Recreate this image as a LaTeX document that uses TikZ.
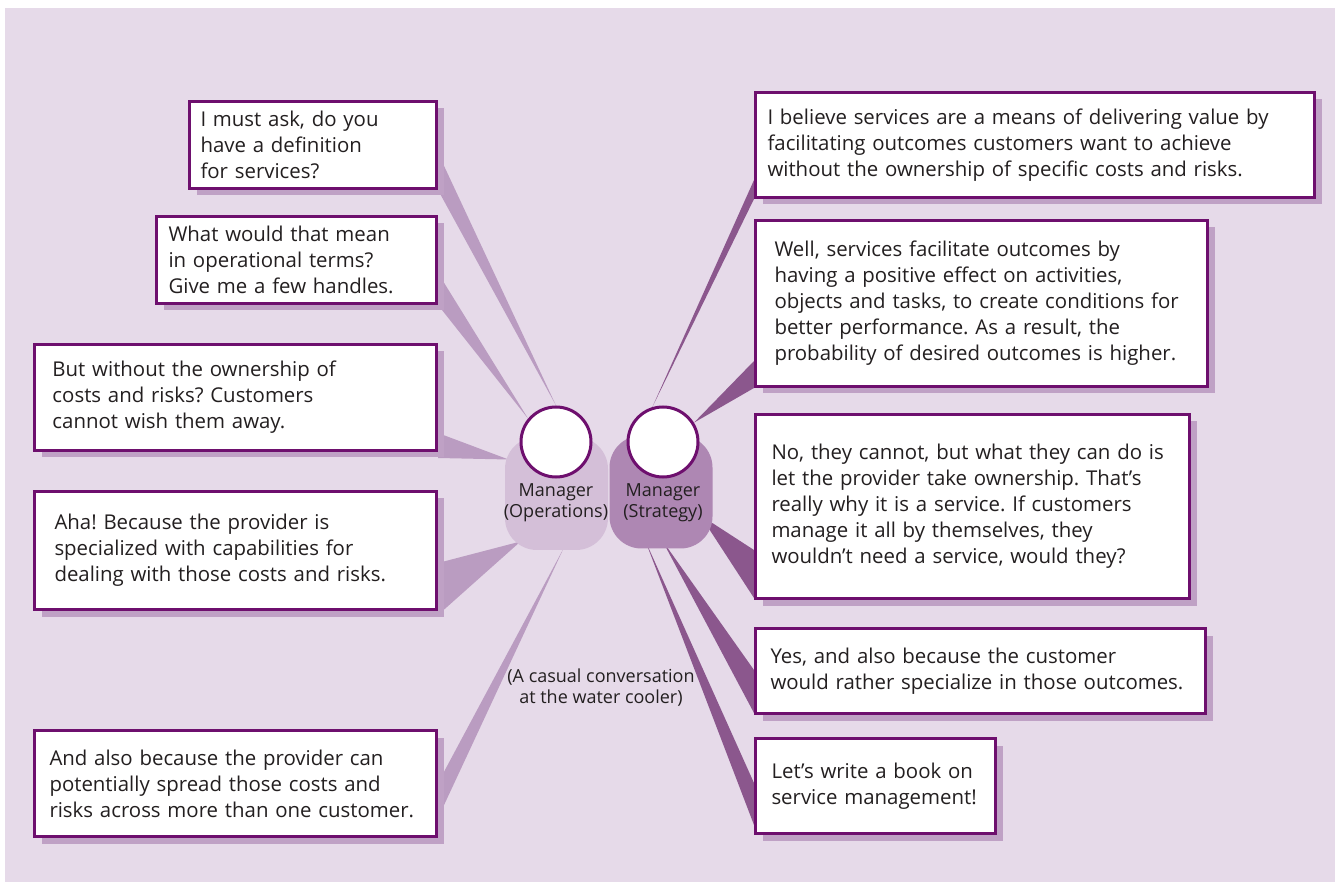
\documentclass[tikz,border=0pt]{standalone}
\usepackage{fontspec}
\setmainfont{Open Sans}
\usepackage{tikz}
\usetikzlibrary{backgrounds}
\usetikzlibrary{shadows}
\frenchspacing

\definecolor{backdrop}{HTML}{E6DAE9}
\definecolor{boxline}{HTML}{6E0F6E}
\definecolor{shadowpurple}{HTML}{BFA1C5}
\definecolor{lightwedge}{HTML}{BA9CC1}
\definecolor{darkwedge}{HTML}{8B578D}
\definecolor{opsfill}{HTML}{D4BFD8}
\definecolor{stratfill}{HTML}{AE87B3}
\definecolor{inktext}{HTML}{231F20}

\begin{document}
\begin{tikzpicture}[x=0.5pt,y=-0.5pt,
  bubble/.style={draw=boxline,line width=1.5pt,fill=white,align=left,
    anchor=north west,inner ysep=0pt,text=inktext,
    font=\fontsize{10.2}{13}\selectfont,
    drop shadow={shadow xshift=3.5pt,shadow yshift=-3.5pt,
      fill=shadowpurple,opacity=1}},
  head/.style={circle,draw=boxline,line width=1.5pt,fill=white,
    minimum size=35pt,inner sep=0pt},
  torso/.style={rounded corners=16pt,minimum width=51.5pt,
    minimum height=56.5pt,inner sep=0pt},
  role/.style={align=center,text=inktext,font=\fontsize{9}{10.5}\selectfont},
  opwedge/.style={fill=lightwedge},
  stwedge/.style={fill=darkwedge}]
  \useasboundingbox (0,0) rectangle (1335,882);

  % the two managers
  \node[torso,fill=opsfill] (opsbody) at (556.5,493.5) {};
  \node[torso,fill=stratfill] (stratbody) at (661,492) {};
  \node[head] (opshead) at (556,442) {};
  \node[head] (strathead) at (663,442) {};
  \node[role] (opsrole) at (556,503) {Manager\\(Operations)};
  \node[role] (stratrole) at (663,503) {Manager\\(Strategy)};
  \node[role] (caption) at (601,688) {(A casual conversation\\at the water cooler)};

  % what Operations says
  \node[bubble,inner xsep=5.5pt,text width=112.5pt,minimum height=43.5pt]
    (q1) at (188,100) {I must ask, do you\\have a definition\\for services?};
  \node[bubble,inner xsep=6pt,text width=128pt,minimum height=43.5pt]
    (q2) at (155,215) {What would that mean\\in operational terms?\\Give me a few handles.};
  \node[bubble,inner xsep=9pt,text width=183pt,minimum height=53pt]
    (q3) at (33,343) {But without the ownership of\\costs and risks? Customers\\cannot wish them away.};
  \node[bubble,inner xsep=10pt,text width=181pt,minimum height=59pt]
    (q4) at (33,490) {Aha! Because the provider is\\specialized with capabilities for\\dealing with those costs and risks.};
  \node[bubble,inner xsep=7.5pt,text width=186pt,minimum height=53pt]
    (q5) at (33,729) {And also because the provider can\\potentially spread those costs and\\risks across more than one customer.};

  % what Strategy says
  \node[bubble,inner xsep=6pt,text width=267.5pt,minimum height=52.5pt]
    (a1) at (754,91) {I believe services are a means of delivering value by\\facilitating outcomes customers want to achieve\\without the ownership of specific costs and risks.};
  \node[bubble,inner xsep=9.5pt,text width=207pt,minimum height=83pt]
    (a2) at (754,219) {Well, services facilitate outcomes by\\having a positive effect on activities,\\objects and tasks, to create conditions for\\better performance. As a result, the\\probability of desired outcomes is higher.};
  \node[bubble,inner xsep=8pt,text width=201pt,minimum height=92pt]
    (a3) at (754,413) {No, they cannot, but what they can do is\\let the provider take ownership. That’s\\really why it is a service. If customers\\manage it all by themselves, they\\wouldn’t need a service, would they?};
  \node[bubble,inner xsep=7.5pt,text width=210pt,minimum height=42.5pt]
    (a4) at (754,627) {Yes, and also because the customer\\would rather specialize in those outcomes.};
  \node[bubble,inner xsep=8pt,text width=104pt,minimum height=47.5pt]
    (a5) at (754,737) {Let’s write a book on\\service management!};

  \begin{pgfonlayer}{background}
    \fill[backdrop] (5,8) rectangle (1335,882);
    % speech wedges, Operations
    \fill[opwedge] ([shift={(0,-37)}]q1.south east) -- (q1.south east) -- (opshead.north) -- cycle;
    \fill[opwedge] ([shift={(0,-32)}]q2.south east) -- (q2.south east) -- (opshead.140) -- cycle;
    \fill[opwedge] ([shift={(0,-19)}]q3.south east) -- ([shift={(0,6)}]q3.south east) -- ([shift={(-48,-34)}]opsbody.center) -- cycle;
    \fill[opwedge] ([shift={(0,-48)}]q4.south east) -- ([shift={(0,4)}]q4.south east) -- ([shift={(-36,48)}]opsbody.center) -- cycle;
    \fill[opwedge] ([shift={(0,-55)}]q5.south east) -- ([shift={(0,-20)}]q5.south east) -- ([shift={(7,55)}]opsbody.center) -- cycle;
    % speech wedges, Strategy
    \fill[stwedge] ([shift={(0,-19)}]a1.south west) -- (a1.south west) -- (strathead.107) -- cycle;
    \fill[stwedge] ([shift={(0,-27)}]a2.south west) -- (a2.south west) -- (strathead.32) -- cycle;
    \fill[stwedge] ([shift={(0,-50)}]a3.south west) -- ([shift={(0,-2)}]a3.south west) -- ([shift={(39,23)}]stratbody.center) -- cycle;
    \fill[stwedge] ([shift={(0,-45)}]a4.south west) -- ([shift={(0,-2)}]a4.south west) -- ([shift={(1,48)}]stratbody.center) -- cycle;
    \fill[stwedge] ([shift={(0,-52)}]a5.south west) -- ([shift={(0,-10)}]a5.south west) -- ([shift={(-16,48)}]stratbody.center) -- cycle;
  \end{pgfonlayer}
\end{tikzpicture}
\end{document}
